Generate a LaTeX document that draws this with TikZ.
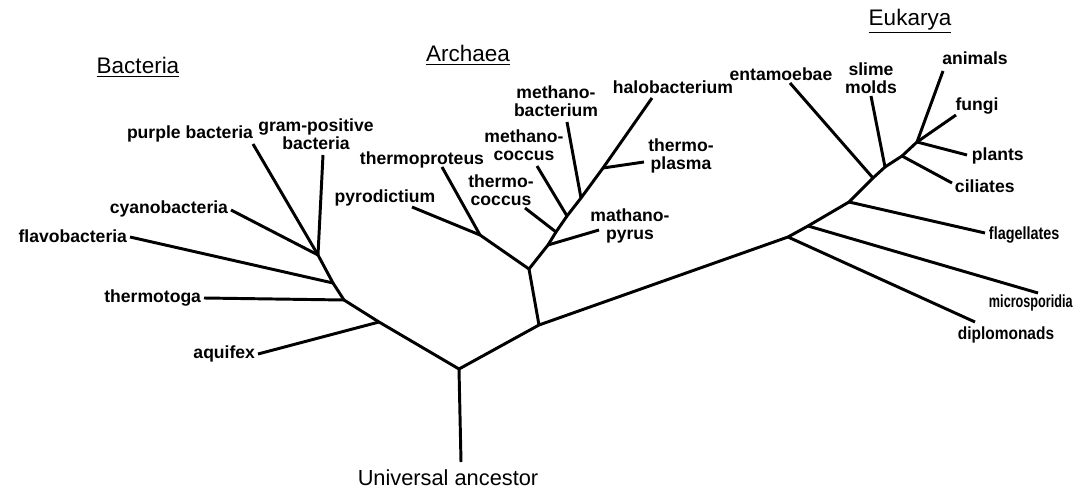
\documentclass[tikz,border=0pt]{standalone}
\usepackage{fontspec}
\setmainfont{Liberation Sans}

\begin{document}
\begin{tikzpicture}[
  x=0.025cm, y=-0.025cm,
  branch/.style={line width=2.1pt, line join=round},
  lbl/.style={font=\fontsize{12.5}{12.5}\selectfont\bfseries, inner sep=0.5pt, align=center},
  hdr/.style={font=\fontsize{16}{18}\selectfont, inner sep=1pt},
  rootlbl/.style={font=\fontsize{15.5}{18}\selectfont, inner sep=0pt},
]
  \useasboundingbox (0,0) rectangle (1073,492);

  % Root
  \coordinate (root) at (459,369);
  \coordinate (rootend) at (461,462);
  \node[rootlbl] (ancestor) at (448,478) {Universal ancestor};

  % Bacteria: inner points and tips
  \coordinate (b1) at (379,322);
  \coordinate (b2) at (344,300);
  \coordinate (b3) at (333,283);
  \coordinate (b4) at (318,255);
  \coordinate (aquifexT) at (258,354);
  \coordinate (thermotogaT) at (204,298);
  \coordinate (flavoT) at (130,237);
  \coordinate (cyanoT) at (231,210);
  \coordinate (purpleT) at (253,144);
  \coordinate (gramT) at (323,155);

  % Archaea: inner points and tips
  \coordinate (a0) at (539,325);
  \coordinate (a1) at (529,269);
  \coordinate (a2) at (480,235);
  \coordinate (a3) at (548,245);
  \coordinate (a4) at (556,232);
  \coordinate (a5) at (567,216);
  \coordinate (a6) at (581,198);
  \coordinate (a7) at (603,168);
  \coordinate (pyrodictT) at (412,207);
  \coordinate (proteusT) at (442,167);
  \coordinate (pyrusT) at (599,230);
  \coordinate (tcoccusT) at (525,208);
  \coordinate (mcoccusT) at (537,166);
  \coordinate (mbactT) at (567,122);
  \coordinate (plasmaT) at (644,162);
  \coordinate (haloT) at (652,98);

  % Eukarya: inner points and tips
  \coordinate (e0) at (788,237);
  \coordinate (e1) at (808,226);
  \coordinate (e2) at (849,202);
  \coordinate (e3) at (873,178);
  \coordinate (e4) at (885,167);
  \coordinate (e5) at (902,156);
  \coordinate (e6) at (917,142);
  \coordinate (diploT) at (975,322);
  \coordinate (microT) at (1038,293);
  \coordinate (flagT) at (985,233);
  \coordinate (entaT) at (790,83);
  \coordinate (slimeT) at (871,96);
  \coordinate (ciliT) at (952,183);
  \coordinate (plantsT) at (967,155);
  \coordinate (animalsT) at (943,71);
  \coordinate (fungiT) at (956,115);

  % Domain headings
  \node[hdr] (bacteria) at (138,67) {\underline{Bacteria}};
  \node[hdr] (archaea) at (468,55) {\underline{Archaea}};
  \node[hdr] (eukarya) at (910,21) {\underline{Eukarya}};

  % Bacteria labels
  \node[lbl, anchor=east] (aquifex) at (256,354) {aquifex};
  \node[lbl, anchor=east] (thermotoga) at (202,298) {thermotoga};
  \node[lbl, anchor=east] (flavo) at (128,236) {flavobacteria};
  \node[lbl, anchor=east] (cyano) at (229,209) {cyanobacteria};
  \node[lbl, anchor=base east] (purple) at (254,139) {purple bacteria};
  \node[lbl] (gram) at (316,134) {gram-positive\\bacteria};

  % Archaea labels
  \node[lbl] (pyrodict) at (385,198) {pyrodictium};
  \node[lbl] (proteus) at (422,160) {thermoproteus};
  \node[lbl] (tcoccus) at (501,190) {thermo-\\coccus};
  \node[lbl] (mcoccus) at (524,145) {methano-\\coccus};
  \node[lbl] (mbact) at (556,101) {methano-\\bacterium};
  \node[lbl] (halo) at (673,87) {halobacterium};
  \node[lbl] (plasma) at (681,156) {thermo-\\plasma};
  \node[lbl] (pyrus) at (630,226) {mathano-\\pyrus};

  % Eukarya labels
  \node[lbl] (enta) at (781,74) {entamoebae};
  \node[lbl] (slime) at (871,78) {slime\\molds};
  \node[lbl] (animals) at (975,58) {animals};
  \node[lbl] (fungi) at (977,106) {fungi};
  \node[lbl, anchor=west] (plants) at (971,156) {plants};
  \node[lbl, anchor=west] (ciliates) at (954,186) {ciliates};
  \node[lbl, anchor=west] (flag) at (988,235) {\scalebox{0.82}[1]{flagellates}};
  \node[lbl, anchor=west] (micro) at (988,303) {\scalebox{0.72}[1]{microsporidia}};
  \node[lbl] (diplo) at (1006,335) {\scalebox{0.88}[1]{diplomonads}};

  % Trunk
  \draw[branch] (rootend) -- (root);
  \draw[branch] (root) -- (b1) -- (b2) -- (b3) -- (b4) -- (gramT);
  \draw[branch] (root) -- (a0) -- (e0) -- (e1) -- (e2) -- (e3) -- (e4) -- (e5) -- (e6) -- (animalsT);

  % Bacteria branches
  \draw[branch] (b1) -- (aquifexT);
  \draw[branch] (b2) -- (thermotogaT);
  \draw[branch] (b3) -- (flavoT);
  \draw[branch] (b4) -- (cyanoT);
  \draw[branch] (b4) -- (purpleT);

  % Archaea branches
  \draw[branch] (a0) -- (a1) -- (a2) -- (pyrodictT);
  \draw[branch] (a2) -- (proteusT);
  \draw[branch] (a1) -- (a3) -- (a4) -- (a5) -- (a6) -- (a7) -- (haloT);
  \draw[branch] (a3) -- (pyrusT);
  \draw[branch] (a4) -- (tcoccusT);
  \draw[branch] (a5) -- (mcoccusT);
  \draw[branch] (a6) -- (mbactT);
  \draw[branch] (a7) -- (plasmaT);

  % Eukarya branches
  \draw[branch] (e0) -- (diploT);
  \draw[branch] (e1) -- (microT);
  \draw[branch] (e2) -- (flagT);
  \draw[branch] (e3) -- (entaT);
  \draw[branch] (e4) -- (slimeT);
  \draw[branch] (e5) -- (ciliT);
  \draw[branch] (e6) -- (plantsT);
  \draw[branch] (e6) -- (fungiT);
\end{tikzpicture}
\end{document}
